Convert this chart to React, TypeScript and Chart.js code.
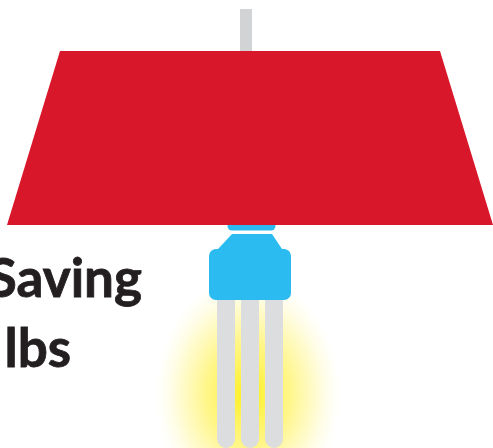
import React, { useEffect, useRef } from "react";
import { Chart, registerables } from "chart.js";

Chart.register(...registerables);

const rodX = [246, 246];
const rodY = [9, 51];
const shadeX = [7, 60, 440, 493];
const shadeY = [225, 51, 51, 225];
const neckX = [232, 271];
const neckY = [226, 226];
const capX = [218, 232, 272, 282];
const capY = [249, 234, 234, 249];
const bodyX = [216, 216, 284, 284, 216];
const bodyY = [293, 256, 256, 293, 293];
const coreX = [216, 284];
const coreY = [274.5, 274.5];
const tubeCentres = [226, 250, 274];
const tubeY = [290, 439];
const glowPoint = [{ x: 248, y: 394 }];
const textLines = [
  { text: "Saving", x: 142, y: 297 },
  { text: "lbs", x: 71, y: 367 },
];

const RED = "#d8172a";
const BLUE = "#2bbbf0";
const TUBE = "#dcddde";
const ROD = "#d1d3d4";
const INK = "#231f20";

const zip = (xs: number[], ys: number[]) => xs.map((x, i) => ({ x, y: ys[i] }));

function makeGlow() {
  const c = document.createElement("canvas");
  c.width = 190;
  c.height = 244;
  const g = c.getContext("2d")!;
  g.translate(95, 122);
  g.scale(1, 122 / 95);
  const grad = g.createRadialGradient(0, 0, 0, 0, 0, 95);
  grad.addColorStop(0, "rgba(255,240,20,1)");
  grad.addColorStop(0.22, "rgba(255,243,90,1)");
  grad.addColorStop(0.45, "rgba(255,246,140,1)");
  grad.addColorStop(0.7, "rgba(255,250,195,0.85)");
  grad.addColorStop(0.88, "rgba(255,253,230,0.5)");
  grad.addColorStop(1, "rgba(255,255,255,0)");
  g.fillStyle = grad;
  g.beginPath();
  g.arc(0, 0, 95, 0, Math.PI * 2);
  g.fill();
  return c;
}

const textPlugin = {
  id: "lampText",
  afterDatasetsDraw(chart: any) {
    const { ctx, scales } = chart;
    ctx.save();
    ctx.fillStyle = INK;
    ctx.strokeStyle = INK;
    ctx.lineWidth = 0.8;
    ctx.font = "bold 53px Lato";
    ctx.textAlign = "right";
    ctx.textBaseline = "alphabetic";
    textLines.forEach((l) => {
      const px = scales.x.getPixelForValue(l.x);
      const py = scales.y.getPixelForValue(l.y);
      ctx.fillText(l.text, px, py);
      ctx.strokeText(l.text, px, py);
    });
    ctx.restore();
  },
};

export default function App() {
  const ref = useRef<HTMLCanvasElement | null>(null);
  useEffect(() => {
    const base = { pointRadius: 0, tension: 0, borderWidth: 0, fill: false };
    const chart = new Chart(ref.current!, {
      type: "line",
      data: {
        datasets: [
          {
            ...base,
            order: 1,
            data: zip(shadeX, shadeY),
            backgroundColor: RED,
            fill: { target: { value: 225 } },
          },
          {
            ...base,
            order: 2,
            data: zip(rodX, rodY),
            borderColor: ROD,
            borderWidth: 12,
          },
          {
            ...base,
            order: 3,
            data: zip(neckX, neckY),
            borderColor: BLUE,
            borderWidth: 9,
            borderCapStyle: "round",
          },
          {
            ...base,
            order: 4,
            data: zip(capX, capY),
            backgroundColor: BLUE,
            fill: { target: { value: 262 } },
          },
          {
            ...base,
            order: 5,
            data: zip(bodyX, bodyY),
            borderColor: BLUE,
            borderWidth: 14,
            borderJoinStyle: "round",
            borderCapStyle: "round",
          },
          {
            ...base,
            order: 5,
            data: zip(coreX, coreY),
            borderColor: BLUE,
            borderWidth: 38,
          },
          ...tubeCentres.map((c) => ({
            ...base,
            order: 6,
            data: zip([c, c], tubeY),
            borderColor: TUBE,
            borderWidth: 18,
            borderCapStyle: "round",
          })),
          {
            ...base,
            order: 7,
            data: glowPoint,
            showLine: false,
            pointRadius: 95,
            pointStyle: makeGlow(),
          },
        ] as any,
      },
      options: {
        animation: false,
        responsive: false,
        devicePixelRatio: 1,
        layout: { padding: 0, autoPadding: false },
        parsing: false,
        normalized: true,
        events: [],
        plugins: { legend: { display: false }, tooltip: { enabled: false }, title: { display: false } },
        scales: {
          x: { type: "linear", min: 0, max: 493, display: false },
          y: { type: "linear", min: 0, max: 448, reverse: true, display: false },
        },
      } as any,
      plugins: [textPlugin],
    });
    return () => chart.destroy();
  }, []);
  return (
    <canvas
      ref={ref}
      width={493}
      height={448}
      style={{ position: "absolute", left: 0, top: 0, width: 493, height: 448, display: "block" }}
    />
  );
}
